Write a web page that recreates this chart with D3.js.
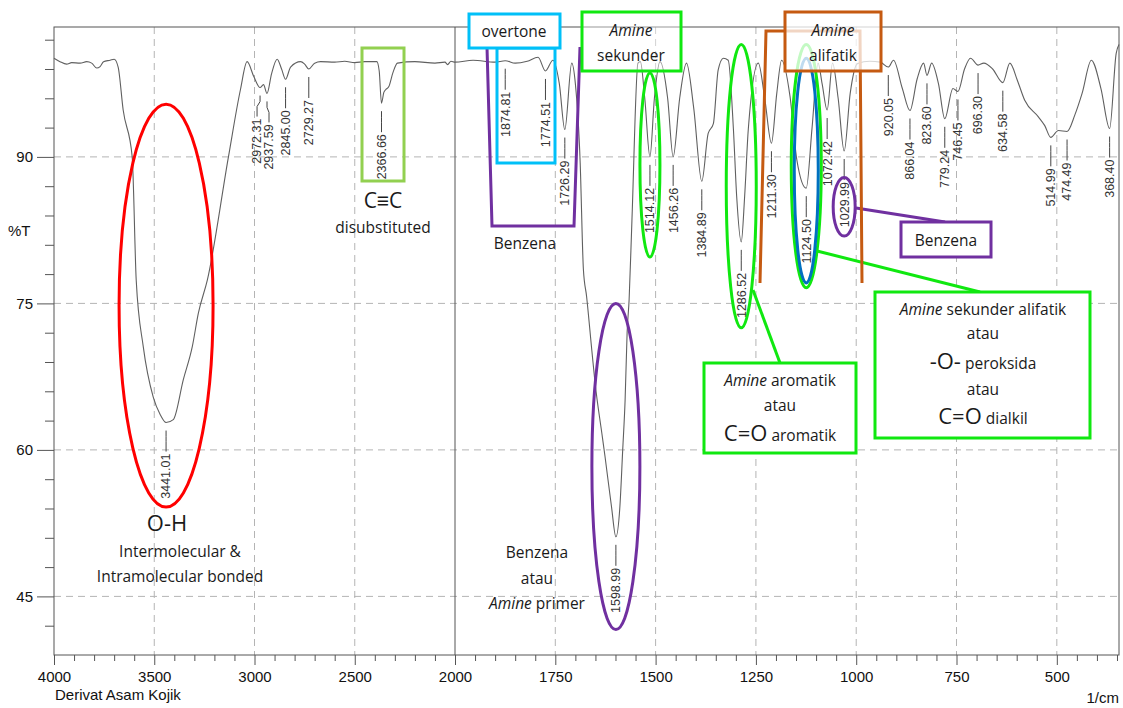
<!DOCTYPE html>
<html>
<head>
<meta charset="utf-8">
<script src="https://cdn.jsdelivr.net/npm/d3@7"></script>
<style>
  body { margin: 0; background: #fff; }
  svg text { font-family: "Liberation Sans", Arial, sans-serif; }
  .note { font-family: "Open Sans", sans-serif; fill: #1a1a1a; }
</style>
</head>
<body>
<svg id="chart" width="1123" height="708"></svg>
<script>

// spectrum (1/cm, %T)
var wavenumber = [4000, 3970, 3937, 3912, 3870, 3837, 3812, 3787, 3770, 3753, 3720, 3700, 3680, 3655, 3610, 3590,
  3555, 3505, 3470, 3441.01, 3405, 3355, 3310, 3280, 3235, 3130, 3070, 3037, 3003, 2972.31, 2955, 2937.59, 2915,
  2887, 2865, 2845, 2820, 2770, 2750, 2729.27, 2700, 2670, 2600, 2550, 2500, 2450, 2390, 2378, 2366.66, 2355, 2345,
  2330, 2310, 2287, 2200, 2100, 2050, 2037, 2020, 2000, 1955, 1900, 1874.81, 1850, 1820, 1793, 1774.51, 1756, 1740,
  1726.29, 1709, 1700, 1688, 1680, 1672, 1659, 1651, 1634, 1626, 1610, 1598.99, 1589, 1582, 1576, 1571, 1566, 1559,
  1544, 1538, 1527, 1514.12, 1503, 1489, 1470, 1456.26, 1440, 1423, 1405, 1384.89, 1369, 1356, 1344, 1331, 1319,
  1306, 1298, 1286.52, 1278, 1269, 1244, 1228, 1211.30, 1198, 1186, 1165, 1148, 1124.50, 1110, 1095, 1085, 1072.42,
  1059, 1045, 1029.99, 1015, 997, 966, 940, 920.05, 907, 885, 866.04, 848, 832, 823.60, 812, 795, 779.24, 759,
  746.45, 730, 715, 696.30, 682, 660, 634.58, 617, 598, 580, 546, 530, 514.99, 496, 474.49, 455, 437, 414, 390,
  368.40, 352, 345];
var transmittance = [100.1, 99.75, 99.5, 99.65, 99.6, 99.75, 99.6, 99.1, 99.25, 99.75, 99.9, 100.0, 99.2, 94.8, 90.0, 77.4,
  70.6, 65.4, 63.6, 62.8, 63.1, 67.2, 70.6, 74.0, 77.4, 90.0, 96.9, 99.75, 98.2, 97.1, 97.4, 96.5, 98.5,
  100.0, 99.0, 97.95, 99.2, 99.75, 99.5, 99.0, 99.6, 99.75, 99.7, 99.8, 99.65, 99.75, 99.75, 98.8, 95.5, 96.6, 96.9,
  97.2, 98.6, 99.6, 99.75, 99.6, 99.7, 99.45, 99.8, 99.7, 99.9, 99.7, 99.85, 99.6, 99.8, 100.2, 98.8, 99.9, 97.5,
  92.8, 99.6, 97.5, 89.4, 78.5, 75.7, 70.2, 66.9, 61.7, 59.3, 54.2, 51.1, 54.2, 60.0, 65.1, 72.0, 75.4, 83.5,
  99.6, 99.75, 96, 90.0, 96, 99.75, 96, 90.0, 96, 99.6, 95, 87.5, 92.4, 93.4, 98.9, 100.1, 99.9,
  92.8, 86, 81.3, 86, 92.8, 99.6, 96, 91.4, 96.5, 99.9, 96.2, 89.7, 86.8, 93, 99.6, 97.5, 94.8,
  99.6, 96, 90.6, 96.5, 99.55, 99.8, 99.7, 99.2, 99.9, 97, 94.75, 98, 99.6, 98.35, 99.6, 97.5, 93.9, 97.0,
  96.7, 99, 100.1, 99.4, 99.6, 99, 97.6, 99.6, 97.8, 95.8, 94.1, 93.2, 92.0, 92.7, 92.6, 94.3, 96.5, 99.9, 97,
  92.9, 100.6, 101.5];

// labelled peaks
var peaks = [3441.01, 2972.31, 2937.59, 2845.00, 2729.27, 2366.66, 1874.81, 1774.51, 1726.29, 1598.99, 1514.12,
  1456.26, 1384.89, 1286.52, 1211.30, 1124.50, 1072.42, 1029.99, 920.05, 866.04, 823.60, 779.24, 746.45, 696.30,
  634.58, 514.99, 474.49, 368.40];

// axis ticks
var xMajor = [4000, 3500, 3000, 2500, 2000, 1750, 1500, 1250, 1000, 750, 500];
var yMajor = [45, 60, 75, 90];

var svg = d3.select("#chart");
var margin = {top: 27, right: 1119, bottom: 655, left: 54};

// the instrument plots 4000-2000 at half the scale of 2000-345
var x = d3.scaleLinear().domain([4000, 2000, 345]).range([margin.left, 455, margin.right]);
var y = d3.scaleLinear().domain([39, 103.3]).range([margin.bottom, margin.top]);

var xMinor = d3.range(4000, 2000, -100).concat(d3.range(2000, 340, -50))
  .filter(function(d) { return xMajor.indexOf(d) < 0; });
var yMinor = d3.range(42, 103, 3).filter(function(d) { return yMajor.indexOf(d) < 0; });

// grid
svg.append("g").selectAll("line")
  .data(xMajor.filter(function(d) { return d != 4000 && d != 2000; }))
  .enter().append("line")
  .attr("x1", function(d) { return x(d); }).attr("x2", function(d) { return x(d); })
  .attr("y1", margin.top).attr("y2", margin.bottom)
  .attr("stroke", "#b4b4b4").attr("stroke-dasharray", "7,5");
svg.append("g").selectAll("line")
  .data(yMajor)
  .enter().append("line")
  .attr("x1", margin.left).attr("x2", margin.right)
  .attr("y1", function(d) { return y(d); }).attr("y2", function(d) { return y(d); })
  .attr("stroke", "#b4b4b4").attr("stroke-dasharray", "7,5");

// axes
svg.append("g").attr("transform", "translate(0," + margin.bottom + ")")
  .call(d3.axisBottom(x).tickValues(xMajor).tickSize(10).tickPadding(6).tickFormat(d3.format("d")));
svg.append("g").attr("transform", "translate(0," + margin.bottom + ")")
  .call(d3.axisBottom(x).tickValues(xMinor).tickSize(6).tickFormat(""));
svg.append("g").attr("transform", "translate(" + margin.left + ",0)")
  .call(d3.axisLeft(y).tickValues(yMajor).tickSize(17).tickPadding(4));
svg.append("g").attr("transform", "translate(" + margin.left + ",0)")
  .call(d3.axisLeft(y).tickValues(yMinor).tickSize(9).tickFormat(""));
svg.selectAll(".domain").remove();
svg.selectAll(".tick line").attr("stroke", "#555");
svg.selectAll(".tick text").attr("font-size", 15).attr("font-family", "Liberation Sans, Arial").attr("fill", "#111");

// frame and the scale break at 2000
svg.append("rect").attr("x", margin.left).attr("y", margin.top)
  .attr("width", margin.right - margin.left).attr("height", margin.bottom - margin.top)
  .attr("fill", "none").attr("stroke", "#555");
svg.append("line").attr("x1", x(2000)).attr("x2", x(2000)).attr("y1", margin.top).attr("y2", margin.bottom)
  .attr("stroke", "#555");

svg.append("text").attr("x", 8).attr("y", 236).attr("font-size", 15).attr("fill", "#111").text("%T");
svg.append("text").attr("x", 55).attr("y", 700).attr("font-size", 15).attr("fill", "#111").text("Derivat Asam Kojik");
svg.append("text").attr("x", margin.right).attr("y", 703).attr("text-anchor", "end").attr("font-size", 15).attr("fill", "#111").text("1/cm");

// spectrum
var spectrum = wavenumber.map(function(w, i) { return [w, transmittance[i]]; });
var line = d3.line()
  .x(function(d) { return x(d[0]); })
  .y(function(d) { return y(d[1]); })
  .curve(d3.curveMonotoneX);
svg.append("path").datum(spectrum)
  .attr("d", line).attr("fill", "none").attr("stroke", "#606060").attr("stroke-width", 1.1);

// peak labels under each dip
function valueAt(w) {
  for (var i = 1; i < spectrum.length; i++) {
    if (spectrum[i][0] <= w) {
      var a = spectrum[i - 1], b = spectrum[i];
      return a[1] + (b[1] - a[1]) * (a[0] - w) / (a[0] - b[0]);
    }
  }
  return spectrum[spectrum.length - 1][1];
}
// crowded labels get pushed sideways, leader kinks back to the dip
var nudge = {"2972.31": -3, "2937.59": 2};
var plabel = svg.append("g").selectAll("g")
  .data(peaks)
  .enter().append("g")
  .attr("transform", function(d) { return "translate(" + x(d) + "," + (y(valueAt(d)) + 8) + ")"; });
plabel.append("path")
  .attr("d", function(d) {
    var n = nudge[d3.format(".2f")(d)] || 0;
    return "M0,0 L0,6 L" + n + ",11 L" + n + ",21";
  })
  .attr("fill", "none").attr("stroke", "#444");
plabel.append("text")
  .attr("transform", function(d) {
    var n = nudge[d3.format(".2f")(d)] || 0;
    return "translate(" + n + ",23) rotate(-90)";
  })
  .attr("text-anchor", "end").attr("dy", "0.35em")
  .attr("font-size", 12.5).attr("fill", "#333")
  .text(function(d) { return d3.format(".2f")(d); });

// ---- annotations ----
var green = "#10e810", purple = "#7030a0", orange = "#c55a11", cyan = "#00c0f8", olive = "#92d050", blue = "#0070c0";
var notes = svg.append("g");

function ellipse(w, tTop, tBot, rx, color) {
  notes.append("ellipse")
    .attr("cx", x(w)).attr("cy", (y(tTop) + y(tBot)) / 2)
    .attr("rx", rx).attr("ry", (y(tBot) - y(tTop)) / 2)
    .attr("fill", "none").attr("stroke", color).attr("stroke-width", 3);
}
function box(x0, y0, w, h, color, fill) {
  notes.append("rect").attr("x", x0).attr("y", y0).attr("width", w).attr("height", h)
    .attr("fill", "#fff").attr("fill-opacity", fill)
    .attr("stroke", color).attr("stroke-width", 3);
}
function seg(pts, color) {
  notes.append("path").attr("d", d3.line()(pts))
    .attr("fill", "none").attr("stroke", color).attr("stroke-width", 3);
}
// text line made of [string, size, italic] parts
function note(cx, by, parts) {
  var t = notes.append("text").attr("class", "note").attr("x", cx).attr("y", by).attr("text-anchor", "middle");
  parts.forEach(function(p) {
    t.append("tspan").attr("font-size", p[1]).attr("font-style", p[2] ? "italic" : "normal").text(p[0]);
  });
}

// O-H
ellipse(3441.01, 95.4, 54.15, 47, "#ff0000");
note(167, 531, [["O-H", 22]]);
note(180, 557, [["Intermolecular &", 15.5]]);
note(180, 582, [["Intramolecular bonded", 15.5]]);

// C≡C
box(362, 48, 42, 133, olive, 0);
note(383, 208, [["C\u2261C", 21]]);
note(383, 233, [["disubstituted", 15.5]]);

// benzena bracket and overtone
seg([[487, 47], [492, 226], [574, 226], [580, 47]], purple);
note(525, 249, [["Benzena", 15.5]]);
box(497, 48, 58, 115, cyan, 0);
box(469, 14, 91, 34, cyan, 1);
note(514, 37, [["overtone", 15.5]]);

// amine sekunder
ellipse(1514.12, 98.6, 79.75, 10, green);
box(582, 12, 99, 59, green, 0.4);
note(631, 36, [["Amine", 15.5, true]]);
note(631, 61, [["sekunder", 15.5]]);

// benzena atau amine primer
ellipse(1598.99, 75.0, 41.6, 24, purple);
note(537, 558, [["Benzena", 15.5]]);
note(537, 584, [["atau", 15.5]]);
note(537, 609, [["Amine", 15.5, true], [" primer", 15.5]]);

// amine aromatik
ellipse(1286.52, 101.5, 72.5, 15, green);
seg([[753, 290], [780, 363]], green);
box(704, 363, 152, 90, green, 1);
note(780, 386, [["Amine", 15.5, true], [" aromatik", 15.5]]);
note(780, 411, [["atau", 15.5]]);
note(780, 441, [["C=O", 22], [" aromatik", 15.5]]);

// 1124 group
ellipse(1124.50, 101.5, 76.6, 15, green);
ellipse(1124.50, 100.1, 77.1, 12, blue);
seg([[817, 251], [980, 292]], green);
box(875, 292, 215, 146, green, 1);
note(983, 315, [["Amine", 15.5, true], [" sekunder alifatik", 15.5]]);
note(983, 339, [["atau", 15.5]]);
note(983, 369, [["-O-", 22], [" peroksida", 15.5]]);
note(983, 395, [["atau", 15.5]]);
note(983, 424, [["C=O", 22], [" dialkil", 15.5]]);

// benzena 1029.99
ellipse(1029.99, 87.9, 81.9, 11, purple);
seg([[856, 208], [945, 222]], purple);
box(901, 222, 90, 35, purple, 1);
note(946, 246, [["Benzena", 15.5]]);

// amine alifatik bracket
seg([[760, 283], [766, 31], [860, 31], [862, 283]], orange);
box(785, 12, 96, 59, orange, 0.75);
note(833, 36, [["Amine", 15.5, true]]);
note(833, 61, [["alifatik", 15.5]]);

</script>
</body>
</html>
